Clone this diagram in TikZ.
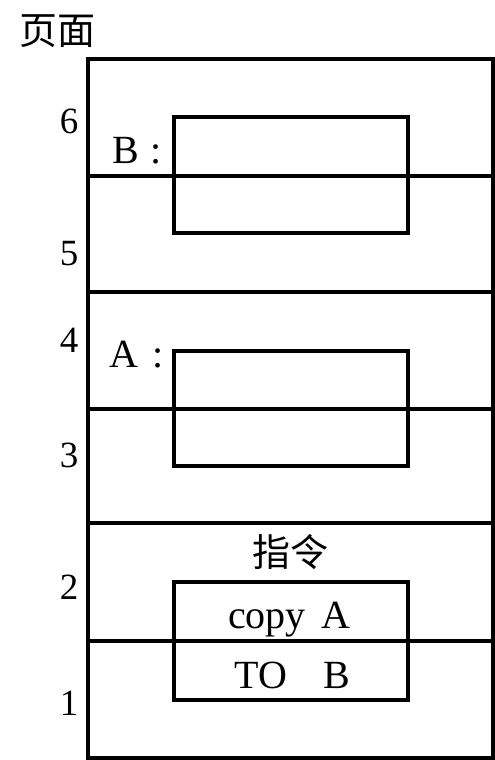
\documentclass[tikz,border=0pt]{standalone}
\usepackage{fontspec}
\setmainfont{Liberation Serif}
\newfontfamily\cjk{Noto Sans CJK SC}
\begin{document}
\begin{tikzpicture}[x=1pt,y=-1pt,
  frame/.style={line width=3.1pt},
  num/.style={font=\fontsize{37}{40}\selectfont, anchor=base, inner sep=0pt},
  lbl/.style={font=\fontsize{40}{44}\selectfont, inner sep=0pt},
  cjklbl/.style={font=\cjk\fontsize{38}{40}\selectfont, inner sep=0pt}]
\useasboundingbox (0,0) rectangle (495,760);
% outer frame and page dividers
\draw[frame] (88,59) rectangle (493,758);
\foreach \y in {176,292,409,523,641} \draw[frame] (88,\y) -- (493,\y);
% inner boxes
\draw[frame] (174,117) rectangle (408,233);
\draw[frame] (174,351) rectangle (408,466);
\draw[frame] (174,582) rectangle (408,700);
% labels
\node[cjklbl] (title) at (57,31) {页面};
\node[num] (n6) at (69,133) {6};
\node[num] (n5) at (69,265) {5};
\node[num] (n4) at (69,352) {4};
\node[num] (n3) at (69,467) {3};
\node[num] (n2) at (69,599) {2};
\node[num] (n1) at (69,715) {1};
\node[lbl, anchor=base west] (lb) at (112,163) {B\hspace{12pt}:};
\node[lbl, anchor=base west] (la) at (109,367) {A\hspace{14pt}:};
\node[cjklbl] (instr) at (290,552) {指令};
\node[lbl, anchor=base] (copy) at (289.5,628) {copy\hspace{16pt}A};
\node[lbl, anchor=base] (to) at (292.5,688) {TO\hspace{36pt}B};
\end{tikzpicture}
\end{document}
